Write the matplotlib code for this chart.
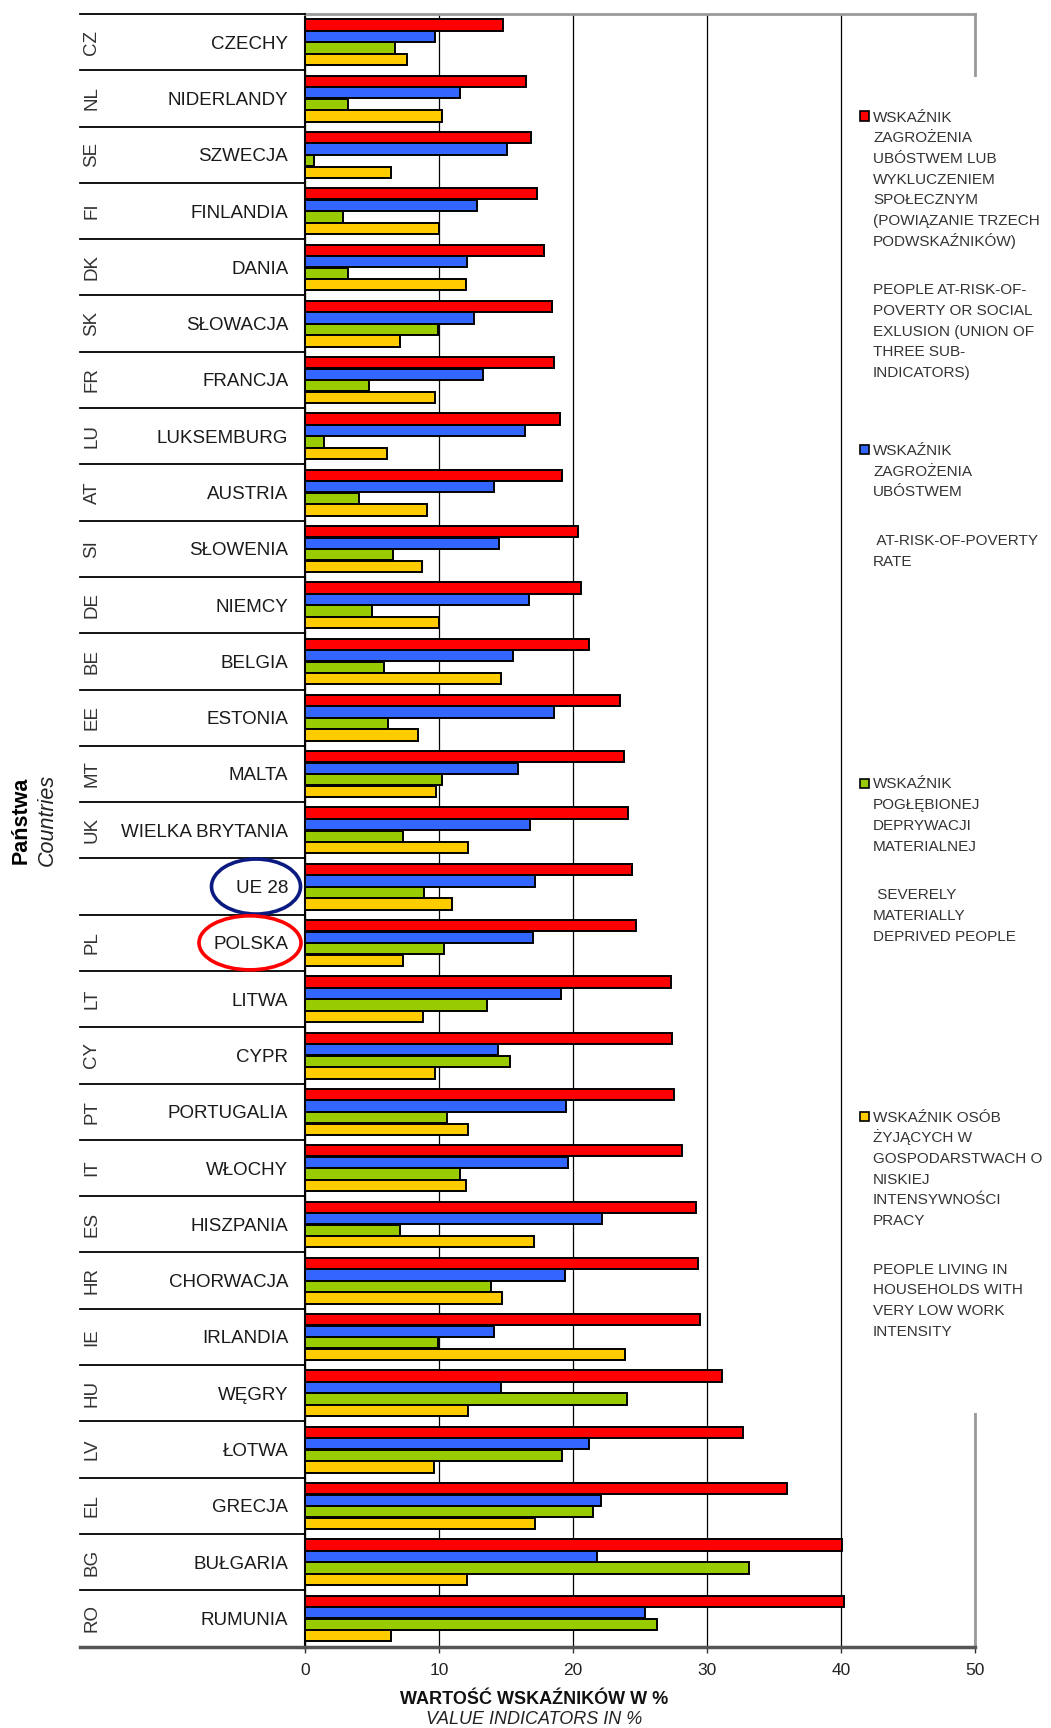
import matplotlib
matplotlib.use("Agg")
import matplotlib.pyplot as plt
from matplotlib.patches import Rectangle, Ellipse
from matplotlib.transforms import ScaledTranslation
import numpy as np

plt.rcParams['font.family'] = ['Liberation Sans', 'DejaVu Sans']

# ---------------- data ----------------
codes = ['CZ', 'NL', 'SE', 'FI', 'DK', 'SK', 'FR', 'LU', 'AT', 'SI', 'DE', 'BE', 'EE', 'MT', 'UK',
         '', 'PL', 'LT', 'CY', 'PT', 'IT', 'ES', 'HR', 'IE', 'HU', 'LV', 'EL', 'BG', 'RO']
countries = ['CZECHY', 'NIDERLANDY', 'SZWECJA', 'FINLANDIA', 'DANIA', 'SŁOWACJA', 'FRANCJA',
             'LUKSEMBURG', 'AUSTRIA', 'SŁOWENIA', 'NIEMCY', 'BELGIA', 'ESTONIA', 'MALTA',
             'WIELKA BRYTANIA', 'UE 28', 'POLSKA', 'LITWA', 'CYPR', 'PORTUGALIA', 'WŁOCHY',
             'HISZPANIA', 'CHORWACJA', 'IRLANDIA', 'WĘGRY', 'ŁOTWA', 'GRECJA', 'BUŁGARIA', 'RUMUNIA']
arope = [14.8, 16.5, 16.9, 17.3, 17.8, 18.4, 18.6, 19.0, 19.2, 20.4, 20.6, 21.2, 23.5, 23.8, 24.1,
         24.4, 24.7, 27.3, 27.4, 27.5, 28.1, 29.2, 29.3, 29.5, 31.1, 32.7, 36.0, 40.1, 40.2]
arop = [9.7, 11.6, 15.1, 12.8, 12.1, 12.6, 13.3, 16.4, 14.1, 14.5, 16.7, 15.5, 18.6, 15.9, 16.8,
        17.2, 17.0, 19.1, 14.4, 19.5, 19.6, 22.2, 19.4, 14.1, 14.6, 21.2, 22.1, 21.8, 25.4]
smd = [6.7, 3.2, 0.7, 2.8, 3.2, 9.9, 4.8, 1.4, 4.0, 6.6, 5.0, 5.9, 6.2, 10.2, 7.3,
       8.9, 10.4, 13.6, 15.3, 10.6, 11.6, 7.1, 13.9, 9.9, 24.0, 19.2, 21.5, 33.1, 26.3]
lwi = [7.6, 10.2, 6.4, 10.0, 12.0, 7.1, 9.7, 6.1, 9.1, 8.7, 10.0, 14.6, 8.4, 9.8, 12.2,
       11.0, 7.3, 8.8, 9.7, 12.2, 12.0, 17.1, 14.7, 23.9, 12.2, 9.6, 17.2, 12.1, 6.4]
x_ticks = [0, 10, 20, 30, 40, 50]

legend_pl = [
    "WSKAŹNIK\nZAGROŻENIA\nUBÓSTWEM LUB\nWYKLUCZENIEM\nSPOŁECZNYM\n(POWIĄZANIE TRZECH\nPODWSKAŹNIKÓW)",
    "WSKAŹNIK\nZAGROŻENIA\nUBÓSTWEM",
    "WSKAŹNIK\nPOGŁĘBIONEJ\nDEPRYWACJI\nMATERIALNEJ",
    "WSKAŹNIK OSÓB\nŻYJĄCYCH W\nGOSPODARSTWACH O\nNISKIEJ\nINTENSYWNOŚCI\nPRACY",
]
legend_en = [
    "PEOPLE AT-RISK-OF-\nPOVERTY OR SOCIAL\nEXLUSION (UNION OF\nTHREE SUB-\nINDICATORS)",
    " AT-RISK-OF-POVERTY\nRATE",
    " SEVERELY\nMATERIALLY\nDEPRIVED PEOPLE",
    "PEOPLE LIVING IN\nHOUSEHOLDS WITH\nVERY LOW WORK\nINTENSITY",
]

series = [arope, arop, smd, lwi]
colors = ['#FF0000', '#3366FF', '#99CC00', '#FFCC00']

# ---------------- figure ----------------
W, H = 1051, 1728
fig = plt.figure(figsize=(W / 100, H / 100), dpi=100)


def fx(px):
    return px / W


def fy(py):
    return 1 - py / H


ax_left, ax_right, ax_top, ax_bot = 305, 975, 14, 1646.5
ax = fig.add_axes([fx(ax_left), fy(ax_bot), (ax_right - ax_left) / W, (ax_bot - ax_top) / H])

n = len(countries)
y = np.arange(n)
bar_h = 0.2
offsets = [-0.305, -0.1, 0.105, 0.31]
for vals, c, off in zip(series, colors, offsets):
    ax.barh(y + off, vals, height=bar_h, color=c, edgecolor='black', linewidth=1.4, zorder=3)

ax.set_xlim(0, 50)
ax.set_ylim(n - 0.5, -0.5)
ax.set_xticks(x_ticks)
ax.set_xticklabels([str(t) for t in x_ticks], fontsize=12.5, color='#222222')
ax.tick_params(axis='x', direction='out', length=4, width=1, color='#333333', pad=8)
ax.set_yticks(y)
ax.set_yticklabels(countries, fontsize=13.5, color='#1a1a1a')
ax.tick_params(axis='y', length=0, pad=12)
ax.set_axisbelow(True)
ax.grid(axis='x', color='#000000', linewidth=0.9)
ax.grid(axis='y', visible=False)

ax.spines['left'].set_color('black')
ax.spines['left'].set_linewidth(1.5)
ax.spines['top'].set_color('#9a9a9a')
ax.spines['top'].set_linewidth(2)
ax.spines['right'].set_color('#9a9a9a')
ax.spines['right'].set_linewidth(2)
ax.spines['bottom'].set_color('#555555')
ax.spines['bottom'].set_linewidth(2.5)

# row separators in label area
ytrans = ax.get_yaxis_transform()
sep_x0 = (80 - ax_left) / (ax_right - ax_left)
for b in np.arange(-0.5, n, 1.0):
    last = b == n - 0.5
    ax.plot([sep_x0, 0], [b, b], transform=ytrans, clip_on=False,
            color='#555555' if last else 'black', lw=2.5 if last else 1.3, zorder=4)

# country codes
code_x = (92 - ax_left) / (ax_right - ax_left)
for yi, code in zip(y, codes):
    if code:
        ax.text(code_x, yi, code, transform=ytrans, rotation=90, ha='center', va='center',
                fontsize=13.5, color='#333333', clip_on=False)

# highlight ellipses
def ring(label, cx_px, w_px, h_px, color):
    yi = countries.index(label)
    xa = (cx_px - ax_left) / (ax_right - ax_left)
    trans = fig.dpi_scale_trans + ScaledTranslation(xa, yi, ytrans)
    e = Ellipse((0, 0), w_px / 100, h_px / 100, transform=trans, fill=False,
                edgecolor=color, lw=2.6, clip_on=False, zorder=5)
    ax.add_artist(e)

ring('UE 28', 256, 89, 55, '#0a1a80')
ring('POLSKA', 250, 102, 54, '#FF0000')

# y label
fig.text(fx(21), fy(820), 'Państwa', rotation=90, ha='center', va='center',
         fontsize=15.5, fontweight='bold', color='black')
fig.text(fx(47), fy(820), 'Countries', rotation=90, ha='center', va='center',
         fontsize=15.5, fontstyle='italic', color='#222222')

# x label
fig.text(fx(534), fy(1699), 'WARTOŚĆ WSKAŹNIKÓW W %', ha='center', va='center',
         fontsize=13, fontweight='bold', color='#111111')
fig.text(fx(534), fy(1720), 'VALUE INDICATORS IN %', ha='center', va='center',
         fontsize=13, fontstyle='italic', color='#222222')

# legend (background box hides part of right spine)
fig.patches.append(Rectangle((fx(852), fy(1413)), (W - 852) / W, (1413 - 77) / H,
                             transform=fig.transFigure, facecolor='white', edgecolor='none',
                             zorder=10))
slot_tops = [116, 449.5, 783, 1116]
line_px = 20.7
for top, c, pl, en in zip(slot_tops, colors, legend_pl, legend_en):
    fig.patches.append(Rectangle((fx(860), fy(top + 4.5)), 9 / W, 9 / H,
                                 transform=fig.transFigure, facecolor=c, edgecolor='black',
                                 lw=1.2, zorder=11))
    pl_lines = pl.split('\n')
    for i, line in enumerate(pl_lines):
        fig.text(fx(873), fy(top + i * line_px + 5.5), line, ha='left', va='baseline',
                 fontsize=11, color='#333333', zorder=12)
    en_top = top + len(pl_lines) * line_px + 28
    for i, line in enumerate(en.split('\n')):
        fig.text(fx(873), fy(en_top + i * line_px + 5.5), line, ha='left', va='baseline',
                 fontsize=11, color='#333333', zorder=12)

fig.savefig('out.png', dpi=100)
